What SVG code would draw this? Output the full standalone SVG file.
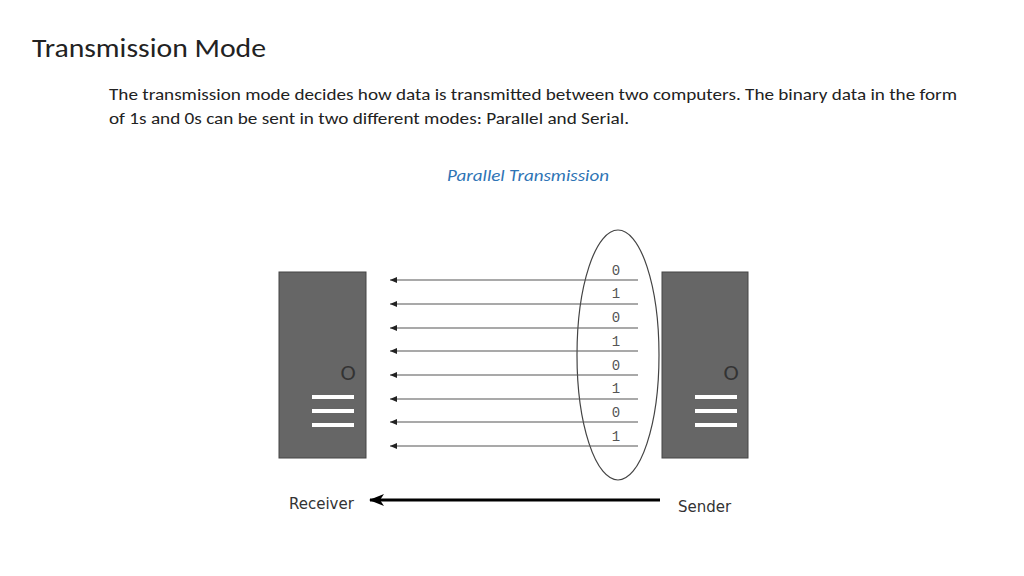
<svg xmlns="http://www.w3.org/2000/svg" width="1024" height="576" viewBox="0 0 1024 576">
<style>
.srv{fill:#666;stroke:#444;stroke-width:1}
.bar{stroke:#fff;stroke-width:4}
.ln{stroke:#555;stroke-width:1.2;fill:none}
.d{font-family:"Liberation Mono",monospace;font-size:14px;fill:#555;text-anchor:middle}
.o{font-family:"DejaVu Sans",sans-serif;font-size:20px;fill:#333;text-anchor:middle}
.lbl{font-family:"DejaVu Sans",sans-serif;font-size:15px;fill:#333}
</style>
<defs>
<marker id="ah" markerWidth="8" markerHeight="8" refX="7" refY="4" orient="auto" markerUnits="userSpaceOnUse"><path d="M0,1 L7,4 L0,7 z" fill="#222"/></marker>
<marker id="bh" markerWidth="16" markerHeight="14" refX="14" refY="7" orient="auto" markerUnits="userSpaceOnUse"><path d="M0,1 L15,7 L0,13 L4,7 z" fill="#000"/></marker>
</defs>
<rect width="1024" height="576" fill="#fff"/>
<text x="32" y="57" font-family="Calibri,'Liberation Sans',sans-serif" font-size="26" fill="#222" textLength="234" lengthAdjust="spacingAndGlyphs">Transmission Mode</text>
<text font-family="Calibri,'Open Sans','Liberation Sans',sans-serif" font-size="16" fill="#222"><tspan x="109" y="100" textLength="848" lengthAdjust="spacingAndGlyphs">The transmission mode decides how data is transmitted between two computers. The binary data in the form</tspan><tspan x="109" y="124" textLength="520" lengthAdjust="spacingAndGlyphs">of 1s and 0s can be sent in two different modes: Parallel and Serial.</tspan></text>
<text x="447" y="181" font-family="Calibri,'Open Sans','Liberation Sans',sans-serif" font-size="16" font-style="italic" fill="#2e74b5" textLength="162" lengthAdjust="spacingAndGlyphs">Parallel Transmission</text>
<g id="receiver">
<rect class="srv" x="279" y="272" width="87" height="186"/>
<text class="o" x="348" y="380">O</text>
<line class="bar" x1="312" y1="397" x2="354" y2="397"/><line class="bar" x1="312" y1="411" x2="354" y2="411"/><line class="bar" x1="312" y1="425" x2="354" y2="425"/>
</g>
<g id="sender">
<rect class="srv" x="662" y="272" width="86" height="186"/>
<text class="o" x="731" y="380">O</text>
<line class="bar" x1="695" y1="397" x2="737" y2="397"/><line class="bar" x1="695" y1="411" x2="737" y2="411"/><line class="bar" x1="695" y1="425" x2="737" y2="425"/>
</g>
<g id="bits">
<ellipse cx="618" cy="355" rx="41" ry="125" fill="none" stroke="#444" stroke-width="1.2"/>
<text class="d" x="616" y="275">0</text><text class="d" x="616" y="298">1</text><text class="d" x="616" y="322">0</text><text class="d" x="616" y="346">1</text><text class="d" x="616" y="370">0</text><text class="d" x="616" y="393">1</text><text class="d" x="616" y="417">0</text><text class="d" x="616" y="441">1</text>
</g>
<g id="connectors">
<line class="ln" x1="638" y1="280" x2="390" y2="280" marker-end="url(#ah)"/>
<line class="ln" x1="638" y1="304" x2="390" y2="304" marker-end="url(#ah)"/>
<line class="ln" x1="638" y1="328" x2="390" y2="328" marker-end="url(#ah)"/>
<line class="ln" x1="638" y1="351" x2="390" y2="351" marker-end="url(#ah)"/>
<line class="ln" x1="638" y1="375" x2="390" y2="375" marker-end="url(#ah)"/>
<line class="ln" x1="638" y1="399" x2="390" y2="399" marker-end="url(#ah)"/>
<line class="ln" x1="638" y1="422" x2="390" y2="422" marker-end="url(#ah)"/>
<line class="ln" x1="638" y1="446" x2="390" y2="446" marker-end="url(#ah)"/>
<line x1="660" y1="500" x2="370" y2="500" stroke="#000" stroke-width="3" marker-end="url(#bh)"/>
</g>
<text class="lbl" x="289" y="509">Receiver</text>
<text class="lbl" x="678" y="512">Sender</text>
</svg>
